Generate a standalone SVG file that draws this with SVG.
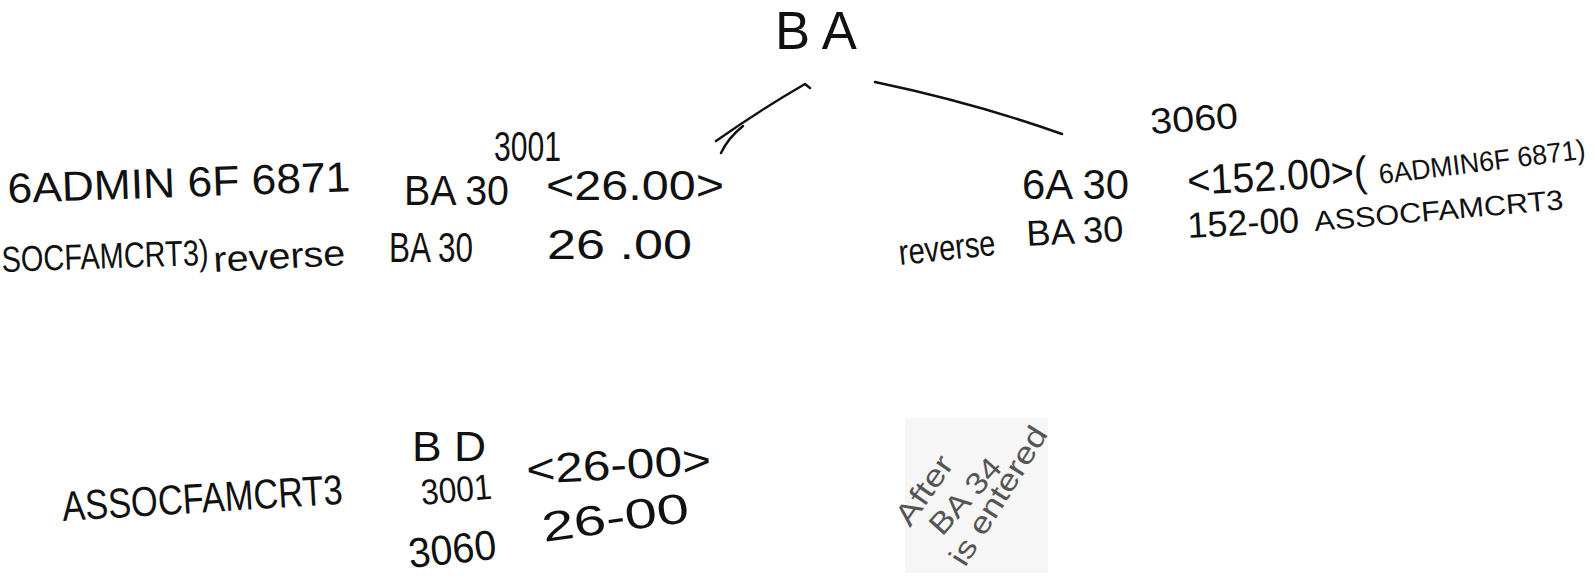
<svg xmlns="http://www.w3.org/2000/svg" width="1595" height="581" viewBox="0 0 1595 581">
<style>
text{font-family:"Liberation Sans",Arial,sans-serif;fill:#111;}
.l{font-size:42px;}
.m{font-size:36px;}
.s{font-size:28px;}
.note{font-family:"Liberation Sans",Arial,sans-serif;font-size:30px;fill:#555;}
.edge{fill:none;stroke:#111;stroke-width:2.5;stroke-linecap:round;}
</style>
<rect width="1595" height="581" fill="#fff"/>
<g id="connectors">
<path class="edge" d="M810,88 L805,84 Q760,110 716,141"/>
<path class="edge" d="M743,126 Q728,138 721,153"/>
<path class="edge" d="M875,82 Q975,103 1062,134"/>
</g>
<g id="node-BA">
<text x="775" y="49" style="font-size:54px" textLength="82" lengthAdjust="spacingAndGlyphs">B A</text>
</g>
<g id="node-3001-left">
<text class="l" x="494" y="161" textLength="67" lengthAdjust="spacingAndGlyphs">3001</text>
<text class="l" x="8" y="203" transform="rotate(-2 8 203)" textLength="343" lengthAdjust="spacingAndGlyphs">6ADMIN 6F 6871</text>
<text class="l" x="404" y="205" textLength="105" lengthAdjust="spacingAndGlyphs">BA 30</text>
<text class="l" x="546" y="200" textLength="178" lengthAdjust="spacingAndGlyphs">&lt;26.00&gt;</text>
<text class="m" x="2" y="272" transform="rotate(-2 2 272)" textLength="207" lengthAdjust="spacingAndGlyphs">SOCFAMCRT3)</text>
<text class="m" x="214" y="272" transform="rotate(-3 214 272)" textLength="132" lengthAdjust="spacingAndGlyphs">reverse</text>
<text class="l" x="389" y="262" textLength="84" lengthAdjust="spacingAndGlyphs">BA 30</text>
<text class="l" x="547" y="259" textLength="145" lengthAdjust="spacingAndGlyphs">26 .00</text>
</g>
<g id="node-3060-right">
<text class="m" x="1151" y="134" transform="rotate(-4 1151 134)" textLength="88" lengthAdjust="spacingAndGlyphs">3060</text>
<text class="l" x="1022" y="199" textLength="107" lengthAdjust="spacingAndGlyphs">6A 30</text>
<text class="l" x="1188" y="195" transform="rotate(-3 1188 195)" textLength="180" lengthAdjust="spacingAndGlyphs">&lt;152.00&gt;(</text>
<text class="s" x="1380" y="184" transform="rotate(-7 1380 184)" textLength="208" lengthAdjust="spacingAndGlyphs">6ADMIN6F 6871)</text>
<text class="m" x="1188" y="238" transform="rotate(-3 1188 238)" textLength="112" lengthAdjust="spacingAndGlyphs">152-00</text>
<text class="s" x="1315" y="231" transform="rotate(-5 1315 231)" textLength="250" lengthAdjust="spacingAndGlyphs">ASSOCFAMCRT3</text>
<text class="m" x="900" y="265" transform="rotate(-6 900 265)" textLength="97" lengthAdjust="spacingAndGlyphs">reverse</text>
<text class="m" x="1027" y="246" transform="rotate(-3 1027 246)" textLength="97" lengthAdjust="spacingAndGlyphs">BA 30</text>
</g>
<g id="node-BD">
<text class="l" x="63" y="521" transform="rotate(-3.5 63 521)" textLength="281" lengthAdjust="spacingAndGlyphs">ASSOCFAMCRT3</text>
<text class="l" x="412" y="461" textLength="74" lengthAdjust="spacingAndGlyphs">B D</text>
<text class="m" x="422" y="505" transform="rotate(-5 422 505)" textLength="71" lengthAdjust="spacingAndGlyphs">3001</text>
<text class="l" x="527" y="484" transform="rotate(-3 527 484)" textLength="185" lengthAdjust="spacingAndGlyphs">&lt;26-00&gt;</text>
<text class="l" x="410" y="568" transform="rotate(-6 410 568)" textLength="88" lengthAdjust="spacingAndGlyphs">3060</text>
<text class="l" x="544" y="542" transform="rotate(-8 544 542)" textLength="148" lengthAdjust="spacingAndGlyphs">26-00</text>
</g>
<g id="note">
<rect x="905" y="418" width="143" height="155" fill="#f6f6f6"/>
<text class="note" x="910" y="528" transform="rotate(-55 910 528)" textLength="78" lengthAdjust="spacingAndGlyphs">After</text>
<text class="note" x="942" y="537" transform="rotate(-48 942 537)" textLength="92" lengthAdjust="spacingAndGlyphs">BA 34</text>
<text class="note" x="965" y="568" transform="rotate(-58 965 568)" textLength="158" lengthAdjust="spacingAndGlyphs">is entered</text>
</g>
</svg>
